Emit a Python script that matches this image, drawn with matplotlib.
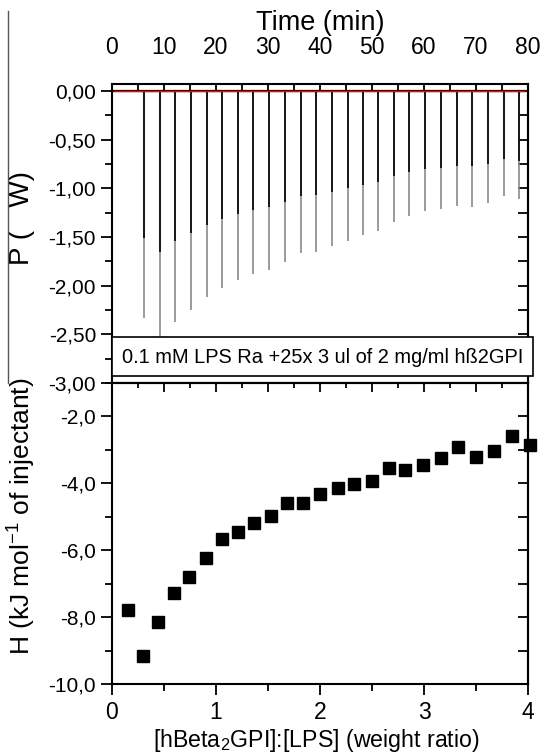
import matplotlib
matplotlib.use('Agg')
import matplotlib.pyplot as plt
from matplotlib.ticker import MultipleLocator, FuncFormatter, NullFormatter
from matplotlib.patches import Rectangle
from matplotlib.lines import Line2D

plt.rcParams['font.family'] = ['Liberation Sans', 'DejaVu Sans']
plt.rcParams['mathtext.fontset'] = 'custom'
plt.rcParams['mathtext.rm'] = 'Liberation Sans'
plt.rcParams['mathtext.it'] = 'Liberation Sans:italic'

# ---- data: raw thermogram (injection times and peak powers) ----
inj_time = [6.15, 9.23, 12.1, 15.2, 18.2, 21.2, 24.2, 27.2, 30.2, 33.3,
            36.3, 39.2, 42.3, 45.3, 48.2, 51.2, 54.2, 57.2, 60.2, 63.2,
            66.3, 69.3, 72.3, 75.3, 78.3]
peak_power = [-2.33, -2.55, -2.37, -2.25, -2.12, -2.02, -1.94, -1.88, -1.84, -1.76,
              -1.66, -1.65, -1.59, -1.54, -1.48, -1.44, -1.35, -1.28, -1.23, -1.21,
              -1.18, -1.19, -1.15, -1.08, -1.11]
baseline_t = [0.3, 79.5]
baseline_p = [0.0, 0.0]

# ---- data: integrated heats ----
ratio = [0.15, 0.30, 0.44, 0.60, 0.74, 0.90, 1.06, 1.21, 1.37, 1.53,
         1.68, 1.84, 2.00, 2.17, 2.33, 2.50, 2.66, 2.82, 2.99, 3.16,
         3.33, 3.50, 3.67, 3.85, 4.02]
dH = [-7.78, -9.17, -8.14, -7.28, -6.80, -6.22, -5.66, -5.46, -5.19, -4.98,
      -4.59, -4.58, -4.33, -4.13, -4.01, -3.93, -3.54, -3.61, -3.44, -3.24,
      -2.92, -3.22, -3.04, -2.57, -2.84]

box_text = "0.1 mM LPS Ra +25x 3 ul of 2 mg/ml h\u00df2GPI"

W, H = 541, 756
fig = plt.figure(figsize=(W / 100, H / 100), dpi=100)

L, R = 112 / W, 528 / W
ax1 = fig.add_axes([L, 1 - 383 / H, R - L, (383 - 83.5) / H])
ax2 = fig.add_axes([L, 1 - 684 / H, R - L, (684 - 383) / H])

lw_sp = 1.5
for ax in (ax1, ax2):
    for s in ax.spines.values():
        s.set_linewidth(lw_sp)

# ---------- top panel ----------
ax1.vlines(inj_time, peak_power, 0, color='#8a8a8a', lw=1.2, zorder=2)
ax1.vlines(inj_time, [0.65 * p for p in peak_power], 0, color='black', lw=1.2, zorder=3)
ax1.plot(baseline_t, baseline_p, color='black', lw=1.6, zorder=3)
ax1.plot(baseline_t, baseline_p, color='#e01010', lw=1.0, zorder=4)
ax1.set_xlim(0, 80)
ax1.set_ylim(-3.0, 0.077)

ax1.xaxis.set_major_locator(MultipleLocator(10))
ax1.xaxis.set_minor_locator(MultipleLocator(5))
ax1.tick_params(axis='x', which='both', top=True, bottom=False, labeltop=True,
                labelbottom=False, direction='in', length=6, width=1.3,
                pad=17.5, labelsize=16.5)
ax1.xaxis.set_label_position('top')
ax1.set_xlabel('Time (min)', fontsize=19.5)
ax1.xaxis.set_label_coords(0.5, 1 + (83.5 - 22.5) / 299.5)
ax1.xaxis.label.set_va('center')

ax1.yaxis.set_major_locator(MultipleLocator(0.5))
ax1.yaxis.set_minor_locator(MultipleLocator(0.25))
ax1.yaxis.set_major_formatter(FuncFormatter(lambda v, p: f"{v:.2f}".replace('.', ',').replace('\u2212', '-')))
ax1.tick_params(axis='y', which='major', direction='out', length=8, width=1.3,
                pad=3.5, labelsize=15, right=False)
ax1.tick_params(axis='y', which='minor', direction='out', length=5, width=1.3, right=False)
ax1.set_ylabel('P (   W)', fontsize=20, va='center')
ax1.yaxis.set_label_coords((22 - 112) / 416, (383 - 218) / 299.5)

r1 = ax1.secondary_yaxis('right')
r1.yaxis.set_major_locator(MultipleLocator(0.25))
r1.yaxis.set_major_formatter(NullFormatter())
r1.tick_params(axis='y', direction='in', length=7, width=1.3)
r1.spines['right'].set_linewidth(lw_sp)

# ---------- bottom panel ----------
ax2.plot(ratio, dH, linestyle='none', marker='s', markersize=8.4,
         color='black', clip_on=False, zorder=5)
ax2.set_xlim(0, 4)
ax2.set_ylim(-10, -1)

ax2.xaxis.set_major_locator(MultipleLocator(1))
ax2.xaxis.set_minor_locator(MultipleLocator(0.5))
ax2.tick_params(axis='x', which='major', direction='out', length=8, width=1.3,
                pad=4, labelsize=16.5, top=False)
ax2.tick_params(axis='x', which='minor', direction='out', length=5, width=1.3, top=False)
ax2.set_xlabel('[hBeta$_2$GPI]:[LPS] (weight ratio)', fontsize=16.7)
ax2.xaxis.set_label_coords(0.492, (684 - 740) / 301)
ax2.xaxis.label.set_va('center')

ax2.yaxis.set_major_locator(MultipleLocator(2))
ax2.yaxis.set_minor_locator(MultipleLocator(1))
ax2.yaxis.set_major_formatter(FuncFormatter(lambda v, p: f"{v:.1f}".replace('.', ',').replace('\u2212', '-')))
ax2.tick_params(axis='y', which='major', direction='out', length=8, width=1.3,
                pad=3.5, labelsize=15, right=False)
ax2.tick_params(axis='y', which='minor', direction='out', length=5, width=1.3, right=False)
ax2.set_ylabel('H (kJ mol$^{-1}$ of injectant)', fontsize=19, va='center')
ax2.yaxis.set_label_coords((22 - 112) / 416, (684 - 516) / 301)

t2 = ax2.secondary_xaxis('top')
t2.xaxis.set_major_locator(MultipleLocator(0.5))
t2.xaxis.set_minor_locator(MultipleLocator(0.25))
t2.xaxis.set_major_formatter(NullFormatter())
t2.tick_params(axis='x', which='major', direction='in', length=6.5, width=1.3)
t2.tick_params(axis='x', which='minor', direction='in', length=3.6, width=1.3)
t2.spines['top'].set_linewidth(lw_sp)

r2 = ax2.secondary_yaxis('right')
r2.yaxis.set_major_locator(MultipleLocator(1))
r2.yaxis.set_major_formatter(NullFormatter())
r2.tick_params(axis='y', direction='in', length=7, width=1.3)
r2.spines['right'].set_linewidth(lw_sp)

# ---------- annotations ----------
fig.add_artist(Rectangle((112 / W, 1 - 376 / H), (533 - 112) / W, (376 - 337) / H,
                         transform=fig.transFigure, facecolor='white',
                         edgecolor='black', lw=1.2, zorder=10))
fig.text(323 / W, 1 - 357.5 / H, box_text, ha='center', va='center',
         fontsize=14.4, zorder=11)
fig.add_artist(Line2D([7.5 / W, 7.5 / W], [1 - 11 / H, 1 - 383 / H],
                      transform=fig.transFigure, color='#555555', lw=1.0))

fig.savefig('out.png', dpi=100)
